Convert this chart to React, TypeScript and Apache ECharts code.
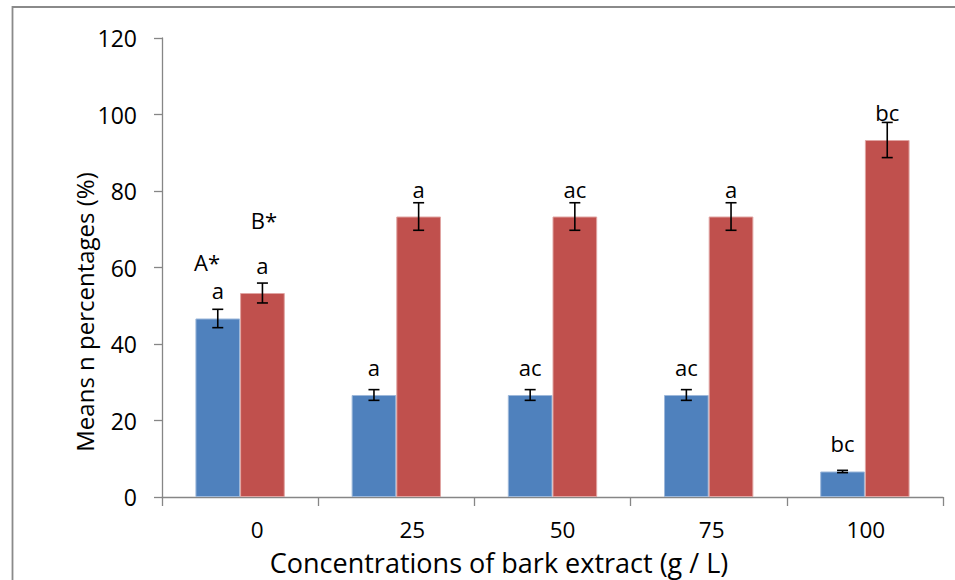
import React, { useEffect, useRef } from "react";
import * as echarts from "echarts";

// Concentrations of bark extract (g / L)
const categories = ["0", "25", "50", "75", "100"];
// Mean percentages for the two groups
const blueValues = [46.67, 26.67, 26.67, 26.67, 6.67];
const redValues = [53.33, 73.33, 73.33, 73.33, 93.33];
// Standard errors
const blueErrors = [2.4, 1.4, 1.4, 1.4, 0.3];
const redErrors = [2.6, 3.6, 3.6, 3.6, 4.6];
// Significance letters above each bar
const blueLetters = ["a", "a", "ac", "ac", "bc"];
const redLetters = ["a", "a", "ac", "a", "bc"];
// Y axis ticks
const yMin = 0;
const yMax = 120;
const yStep = 20;

const FONT = "'Open Sans', sans-serif";
const BAR_FRACTION = 0.286;
// horizontal nudge (px) of each category label
const LABEL_SHIFT = [17, 16, 10, 3, 1];

function errorBarSeries(values: number[], errors: number[], side: number) {
  return {
    type: "custom",
    z: 5,
    silent: true,
    data: values.map((v, i) => [i, v, errors[i]]),
    renderItem: (params: any, api: any) => {
      const idx = api.value(0);
      const v = api.value(1);
      const e = api.value(2);
      const band = api.size([1, 0])[0];
      const bw = band * BAR_FRACTION;
      const base = api.coord([idx, v]);
      const x = base[0] + side * bw * 0.5;
      const yTop = api.coord([idx, v + e])[1];
      const yBot = api.coord([idx, v - e])[1];
      const cap = 5.5;
      const style = { stroke: "#000", lineWidth: 1.6 };
      return {
        type: "group",
        children: [
          { type: "line", shape: { x1: x, y1: yTop, x2: x, y2: yBot }, style },
          { type: "line", shape: { x1: x - cap, y1: yTop, x2: x + cap, y2: yTop }, style },
          { type: "line", shape: { x1: x - cap, y1: yBot, x2: x + cap, y2: yBot }, style },
        ],
      };
    },
  };
}

export default function App() {
  const ref = useRef<HTMLDivElement>(null);

  useEffect(() => {
    if (!ref.current) return;
    const chart = echarts.init(ref.current, null, { renderer: "svg" });
    const letterLabel = (letters: string[]) => ({
      show: true,
      position: "top",
      distance: 17,
      color: "#000",
      fontFamily: FONT,
      fontSize: 22,
      lineHeight: 22,
      formatter: (p: any) => letters[p.dataIndex],
    });
    const rich: Record<string, any> = {};
    LABEL_SHIFT.forEach((s, i) => {
      rich["c" + i] = {
        fontFamily: FONT,
        fontSize: 22.5,
        lineHeight: 19,
        color: "#000",
        padding: [0, 0, 0, s * 2],
      };
    });
    chart.setOption({
      animation: false,
      backgroundColor: "#fff",
      textStyle: { fontFamily: FONT },
      grid: { left: 162, right: 12, top: 38, bottom: 83, containLabel: false },
      xAxis: {
        type: "category",
        data: categories,
        axisLine: { lineStyle: { color: "#868686", width: 1.3 } },
        axisTick: { show: true, length: 9, lineStyle: { color: "#868686", width: 1.3 } },
        axisLabel: {
          color: "#000",
          fontSize: 22.5,
          lineHeight: 19,
          margin: 23,
          fontFamily: FONT,
          formatter: (v: string, i: number) => `{c${i}|${v}}`,
          rich,
        },
        splitLine: { show: false },
      },
      yAxis: {
        type: "value",
        min: yMin,
        max: yMax,
        interval: yStep,
        axisLine: { show: true, lineStyle: { color: "#868686", width: 1.3 } },
        axisTick: { show: true, length: 8, lineStyle: { color: "#868686", width: 1.3 } },
        axisLabel: { color: "#000", fontSize: 23, margin: 25, fontFamily: FONT },
        splitLine: { show: false },
      },
      series: [
        {
          type: "bar",
          data: blueValues,
          barWidth: (BAR_FRACTION * 100).toFixed(1) + "%",
          barGap: "0%",
          itemStyle: { color: "#4F81BD", borderColor: "#9db8da", borderWidth: 1 },
          label: letterLabel(blueLetters),
        },
        {
          type: "bar",
          data: redValues,
          barWidth: (BAR_FRACTION * 100).toFixed(1) + "%",
          barGap: "0%",
          itemStyle: { color: "#C0504D", borderColor: "#e0a4a2", borderWidth: 1 },
          label: letterLabel(redLetters),
        },
        errorBarSeries(blueValues, blueErrors, -1),
        errorBarSeries(redValues, redErrors, 1),
      ],
      graphic: [
        {
          type: "rect",
          shape: { x: 12.5, y: 7, width: 1200, height: 1200 },
          style: { fill: "none", stroke: "#8a8a8a", lineWidth: 1.8 },
          silent: true,
        },
        {
          type: "text",
          x: 207,
          y: 262,
          style: {
            text: "A*",
            fontFamily: FONT,
            fontSize: 22,
            fill: "#000",
            align: "center",
            verticalAlign: "middle",
          },
        },
        {
          type: "text",
          x: 264,
          y: 220,
          style: {
            text: "B*",
            fontFamily: FONT,
            fontSize: 22,
            fill: "#000",
            align: "center",
            verticalAlign: "middle",
          },
        },
        {
          type: "text",
          x: 499,
          y: 562,
          style: {
            text: "Concentrations of bark extract (g / L)",
            fontFamily: FONT,
            fontSize: 27,
            lineHeight: 24,
            fill: "#000",
            align: "center",
            verticalAlign: "middle",
          },
        },
        {
          type: "text",
          x: 84,
          y: 312,
          rotation: Math.PI / 2,
          style: {
            text: "Means n percentages (%)",
            fontFamily: FONT,
            fontSize: 24,
            fill: "#000",
            align: "center",
            verticalAlign: "middle",
          },
        },
      ],
    });
    return () => chart.dispose();
  }, []);

  return (
    <div
      ref={ref}
      style={{ position: "fixed", left: 0, top: 0, width: 955, height: 580 }}
    />
  );
}
